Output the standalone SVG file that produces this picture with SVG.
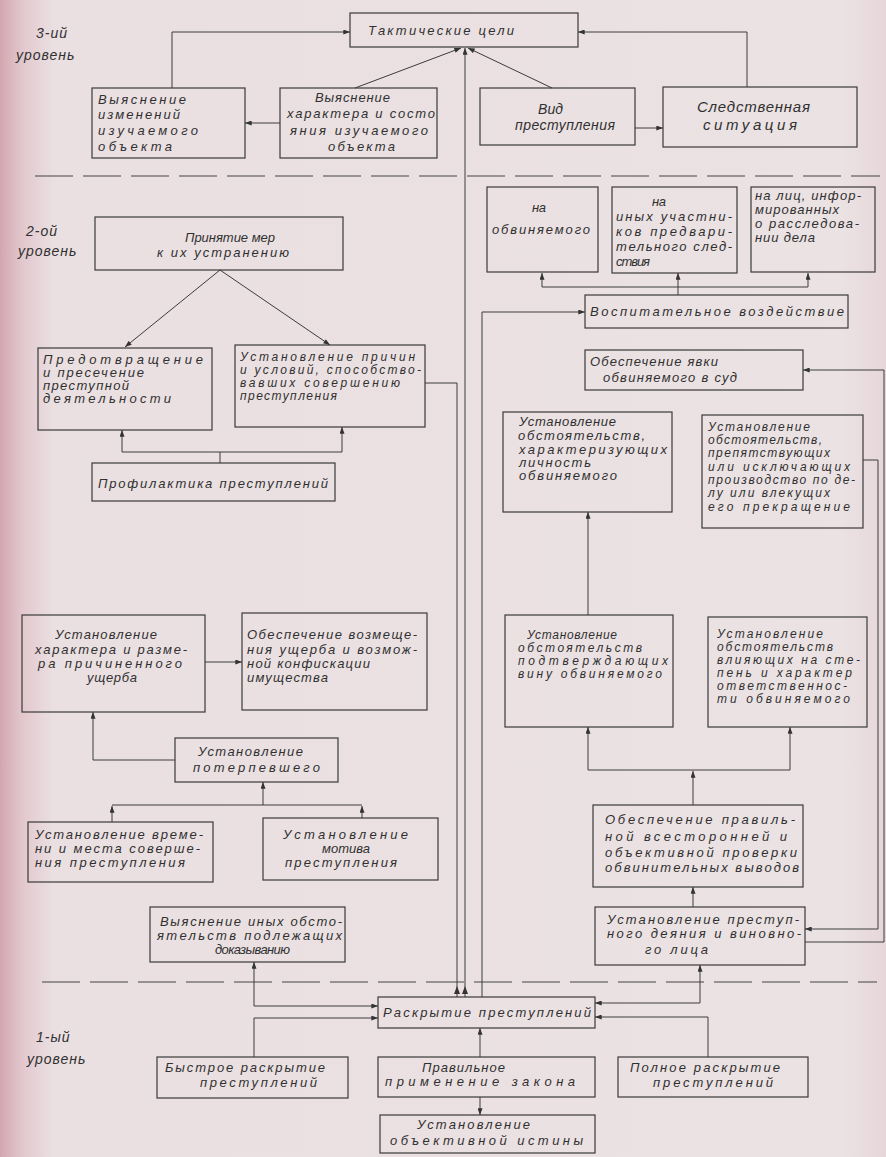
<svg xmlns="http://www.w3.org/2000/svg" width="886" height="1157" viewBox="0 0 886 1157">
<defs>
<linearGradient id="bg" x1="0" y1="0" x2="1" y2="0">
<stop offset="0" stop-color="#d3a6b1"/>
<stop offset="0.025" stop-color="#e2c8ce"/>
<stop offset="0.06" stop-color="#eadfe1"/>
<stop offset="0.95" stop-color="#ebe2e3"/>
<stop offset="1" stop-color="#e6d6da"/>
</linearGradient>
<marker id="ar" viewBox="0 0 8 6" refX="8" refY="3" markerWidth="8" markerHeight="5" markerUnits="userSpaceOnUse" orient="auto-start-reverse"><path d="M0,0 L8,3 L0,6 Z" fill="#333"/></marker>
<style>
.bx{fill:none;stroke:#3a3a3a;stroke-width:1.2}
.ln{fill:none;stroke:#3c3c3c;stroke-width:1}
.dash{fill:none;stroke:#454545;stroke-width:1.2;stroke-dasharray:38 10}
text{font-family:"Liberation Sans","DejaVu Sans",sans-serif;font-style:italic;font-size:13px;fill:#303030}
.m{font-size:14px}
.l{font-size:15px}
.lv{font-size:14px;letter-spacing:1px}
.s{font-size:12px}
</style>
</defs>
<rect x="0" y="0" width="886" height="1157" fill="url(#bg)"/>

<g id="level-lines">
<path class="dash" d="M35 176 H880"/>
<path class="dash" d="M42 982 H877"/>
</g>

<g id="level-labels">
<text class="lv"><tspan x="36" y="38">3-ий</tspan><tspan x="16" y="60">уровень</tspan></text>
<text class="lv"><tspan x="26" y="236">2-ой</tspan><tspan x="18" y="256">уровень</tspan></text>
<text class="lv"><tspan x="36" y="1042">1-ый</tspan><tspan x="27" y="1064">уровень</tspan></text>
</g>

<g id="connectors" class="ln">
<path d="M172 88 V32 H350" marker-end="url(#ar)"/>
<path d="M747 87 V32 H578" marker-end="url(#ar)"/>
<path d="M355 88 L461 48" marker-end="url(#ar)"/>
<path d="M552 88 L468 48" marker-end="url(#ar)"/>
<path d="M280 123 H245" marker-end="url(#ar)"/>
<path d="M635 128 H663" marker-end="url(#ar)"/>
<path d="M465 997 V48" marker-end="url(#ar)"/>
<path d="M425 383 H457 V997"/>
<path d="M482 997 V312 H585" marker-end="url(#ar)"/>
<polygon points="457,986 454,994 460,994" fill="#333" stroke="none"/>
<polygon points="465,986 462,994 468,994" fill="#333" stroke="none"/>
<path d="M220 270 L125 347" marker-end="url(#ar)"/>
<path d="M220 270 L330 345" marker-end="url(#ar)"/>
<path d="M220 463 V452 H122 V430" marker-end="url(#ar)"/>
<path d="M220 452 H342 V427" marker-end="url(#ar)"/>
<path d="M678 295 V287 H542 V273" marker-end="url(#ar)"/>
<path d="M678 287 V273" marker-end="url(#ar)"/>
<path d="M678 287 H808 V273" marker-end="url(#ar)"/>
<path d="M805 942 H884 V370 H803" marker-end="url(#ar)"/>
<path d="M863 460 H878 V929 H805" marker-end="url(#ar)"/>
<path d="M588 615 V512" marker-end="url(#ar)"/>
<path d="M693 805 V771" marker-end="url(#ar)"/>
<path d="M693 770 H588 V727" marker-end="url(#ar)"/>
<path d="M693 770 H790 V727" marker-end="url(#ar)"/>
<path d="M693 907 V887" marker-end="url(#ar)"/>
<path d="M700 965 V1003 H595" marker-start="url(#ar)" marker-end="url(#ar)"/>
<path d="M708 1057 V1017 H595" marker-end="url(#ar)"/>
<path d="M205 662 H242" marker-end="url(#ar)"/>
<path d="M175 760 H93 V712" marker-end="url(#ar)"/>
<path d="M263 805 V782" marker-end="url(#ar)"/>
<path d="M112 805 H362"/>
<path d="M112 822 V806" marker-end="url(#ar)"/>
<path d="M362 818 V806" marker-end="url(#ar)"/>
<path d="M254 962 V1006 H378" marker-start="url(#ar)" marker-end="url(#ar)"/>
<path d="M254 1057 V1018 H378" marker-end="url(#ar)"/>
<path d="M480 1057 V1028" marker-end="url(#ar)"/>
<path d="M480 1097 V1115" marker-end="url(#ar)"/>
</g>

<g id="n-takticheskie-tseli"><rect class="bx" x="350" y="13" width="228" height="34"/>
<text><tspan x="368" y="35" textLength="146" lengthAdjust="spacing">Тактические цели</tspan></text></g>

<g id="n-izmeneniya"><rect class="bx" x="92" y="88" width="153" height="70"/>
<text><tspan x="98" y="104" textLength="88" lengthAdjust="spacing">Выяснение</tspan><tspan x="98" y="119" textLength="82" lengthAdjust="spacing">изменений</tspan><tspan x="98" y="135" textLength="100" lengthAdjust="spacing">изучаемого</tspan><tspan x="98" y="151" textLength="74" lengthAdjust="spacing">объекта</tspan></text></g>

<g id="n-kharakter-sostoyanie"><rect class="bx" x="280" y="88" width="157" height="70"/>
<text><tspan x="315" y="102" textLength="75" lengthAdjust="spacing">Выяснение</tspan><tspan x="287" y="118" textLength="148" lengthAdjust="spacing">характера и состо</tspan><tspan x="290" y="135" textLength="138" lengthAdjust="spacing">яния изучаемого</tspan><tspan x="328" y="151" textLength="67" lengthAdjust="spacing">объекта</tspan></text></g>

<g id="n-vid-prestupleniya"><rect class="bx" x="480" y="88" width="155" height="57"/>
<text class="m"><tspan x="538" y="114" textLength="25" lengthAdjust="spacing">Вид</tspan><tspan x="515" y="130" textLength="100" lengthAdjust="spacing">преступления</tspan></text></g>

<g id="n-sledstvennaya-situatsiya"><rect class="bx" x="663" y="87" width="194" height="60"/>
<text class="l"><tspan x="697" y="112" textLength="113" lengthAdjust="spacing">Следственная</tspan><tspan x="703" y="130" textLength="94" lengthAdjust="spacing">ситуация</tspan></text></g>

<g id="n-prinyatie-mer"><rect class="bx" x="95" y="217" width="248" height="53"/>
<text><tspan x="185" y="242" textLength="90" lengthAdjust="spacing">Принятие мер</tspan><tspan x="157" y="257" textLength="132" lengthAdjust="spacing">к их устранению</tspan></text></g>

<g id="n-predotvrashchenie"><rect class="bx" x="38" y="348" width="174" height="82"/>
<text><tspan x="43" y="364" textLength="160" lengthAdjust="spacing">Предотвращение</tspan><tspan x="43" y="377" textLength="101" lengthAdjust="spacing">и пресечение</tspan><tspan x="43" y="390" textLength="86" lengthAdjust="spacing">преступной</tspan><tspan x="43" y="403" textLength="128" lengthAdjust="spacing">деятельности</tspan></text></g>

<g id="n-prichiny-usloviya"><rect class="bx" x="235" y="345" width="190" height="82"/>
<text class="s"><tspan x="240" y="361" textLength="175" lengthAdjust="spacing">Установление причин</tspan><tspan x="240" y="374" textLength="181" lengthAdjust="spacing">и условий, способство-</tspan><tspan x="240" y="387" textLength="160" lengthAdjust="spacing">вавших совершению</tspan><tspan x="240" y="400" textLength="97" lengthAdjust="spacing">преступления</tspan></text></g>

<g id="n-profilaktika"><rect class="bx" x="92" y="463" width="243" height="38"/>
<text><tspan x="98" y="488" textLength="230" lengthAdjust="spacing">Профилактика преступлений</tspan></text></g>

<g id="n-na-obvinyaemogo"><rect class="bx" x="487" y="187" width="111" height="85"/>
<text><tspan x="532" y="212" textLength="14" lengthAdjust="spacing">на</tspan><tspan x="492" y="234" textLength="98" lengthAdjust="spacing">обвиняемого</tspan></text></g>

<g id="n-na-inykh-uchastnikov"><rect class="bx" x="612" y="187" width="125" height="86"/>
<text><tspan x="652" y="206" textLength="14" lengthAdjust="spacing">на</tspan><tspan x="616" y="221" textLength="116" lengthAdjust="spacing">иных участни-</tspan><tspan x="616" y="236" textLength="116" lengthAdjust="spacing">ков предвари-</tspan><tspan x="616" y="251" textLength="116" lengthAdjust="spacing">тельного след-</tspan><tspan x="616" y="266" textLength="34" lengthAdjust="spacing">ствия</tspan></text></g>

<g id="n-na-lits"><rect class="bx" x="751" y="187" width="124" height="85"/>
<text><tspan x="755" y="200" textLength="106" lengthAdjust="spacing">на лиц, инфор-</tspan><tspan x="755" y="214" textLength="84" lengthAdjust="spacing">мированных</tspan><tspan x="755" y="228" textLength="104" lengthAdjust="spacing">о расследова-</tspan><tspan x="755" y="242" textLength="60" lengthAdjust="spacing">нии дела</tspan></text></g>

<g id="n-vospitatelnoe"><rect class="bx" x="585" y="295" width="263" height="33"/>
<text><tspan x="590" y="316" textLength="254" lengthAdjust="spacing">Воспитательное воздействие</tspan></text></g>

<g id="n-yavka"><rect class="bx" x="585" y="350" width="218" height="40"/>
<text><tspan x="590" y="366" textLength="128" lengthAdjust="spacing">Обеспечение явки</tspan><tspan x="603" y="382" textLength="134" lengthAdjust="spacing">обвиняемого в суд</tspan></text></g>

<g id="n-lichnost"><rect class="bx" x="503" y="412" width="169" height="100"/>
<text><tspan x="519" y="426" textLength="97" lengthAdjust="spacing">Установление</tspan><tspan x="518" y="440" textLength="127" lengthAdjust="spacing">обстоятельств,</tspan><tspan x="519" y="454" textLength="148" lengthAdjust="spacing">характеризующих</tspan><tspan x="519" y="467" textLength="72" lengthAdjust="spacing">личность</tspan><tspan x="519" y="480" textLength="98" lengthAdjust="spacing">обвиняемого</tspan></text></g>

<g id="n-prepyatstvuyushchikh"><rect class="bx" x="702" y="415" width="161" height="113"/>
<text class="s"><tspan x="708" y="431" textLength="102" lengthAdjust="spacing">Установление</tspan><tspan x="708" y="444" textLength="114" lengthAdjust="spacing">обстоятельств,</tspan><tspan x="708" y="457" textLength="122" lengthAdjust="spacing">препятствующих</tspan><tspan x="708" y="471" textLength="142" lengthAdjust="spacing">или исключающих</tspan><tspan x="708" y="484" textLength="147" lengthAdjust="spacing">производство по де-</tspan><tspan x="708" y="497" textLength="122" lengthAdjust="spacing">лу или влекущих</tspan><tspan x="708" y="511" textLength="142" lengthAdjust="spacing">его прекращение</tspan></text></g>

<g id="n-podtverzhdayushchikh"><rect class="bx" x="505" y="615" width="168" height="112"/>
<text class="s"><tspan x="527" y="639" textLength="90" lengthAdjust="spacing">Установление</tspan><tspan x="518" y="652" textLength="124" lengthAdjust="spacing">обстоятельств</tspan><tspan x="518" y="665" textLength="150" lengthAdjust="spacing">подтверждающих</tspan><tspan x="518" y="678" textLength="144" lengthAdjust="spacing">вину обвиняемого</tspan></text></g>

<g id="n-vliyayushchikh"><rect class="bx" x="708" y="617" width="159" height="110"/>
<text class="s"><tspan x="717" y="638" textLength="106" lengthAdjust="spacing">Установление</tspan><tspan x="717" y="651" textLength="116" lengthAdjust="spacing">обстоятельств</tspan><tspan x="717" y="664" textLength="143" lengthAdjust="spacing">влияющих на сте-</tspan><tspan x="717" y="677" textLength="135" lengthAdjust="spacing">пень и характер</tspan><tspan x="717" y="690" textLength="130" lengthAdjust="spacing">ответственнос-</tspan><tspan x="717" y="703" textLength="133" lengthAdjust="spacing">ти обвиняемого</tspan></text></g>

<g id="n-proverka"><rect class="bx" x="593" y="805" width="210" height="82"/>
<text><tspan x="605" y="824" textLength="190" lengthAdjust="spacing">Обеспечение правиль-</tspan><tspan x="605" y="841" textLength="182" lengthAdjust="spacing">ной всесторонней и</tspan><tspan x="605" y="857" textLength="192" lengthAdjust="spacing">объективной проверки</tspan><tspan x="605" y="872" textLength="194" lengthAdjust="spacing">обвинительных выводов</tspan></text></g>

<g id="n-deyanie"><rect class="bx" x="595" y="907" width="210" height="58"/>
<text><tspan x="607" y="924" textLength="192" lengthAdjust="spacing">Установление преступ-</tspan><tspan x="607" y="938" textLength="194" lengthAdjust="spacing">ного деяния и виновно-</tspan><tspan x="645" y="954" textLength="63" lengthAdjust="spacing">го лица</tspan></text></g>

<g id="n-ushcherb"><rect class="bx" x="22" y="615" width="183" height="97"/>
<text><tspan x="55" y="639" textLength="102" lengthAdjust="spacing">Установление</tspan><tspan x="35" y="654" textLength="152" lengthAdjust="spacing">характера и разме-</tspan><tspan x="38" y="668" textLength="144" lengthAdjust="spacing">ра причиненного</tspan><tspan x="87" y="682" textLength="50" lengthAdjust="spacing">ущерба</tspan></text></g>

<g id="n-vozmeshchenie"><rect class="bx" x="242" y="613" width="185" height="97"/>
<text><tspan x="247" y="639" textLength="170" lengthAdjust="spacing">Обеспечение возмеще-</tspan><tspan x="247" y="654" textLength="170" lengthAdjust="spacing">ния ущерба и возмож-</tspan><tspan x="247" y="668" textLength="123" lengthAdjust="spacing">ной конфискации</tspan><tspan x="247" y="682" textLength="81" lengthAdjust="spacing">имущества</tspan></text></g>

<g id="n-poterpevshiy"><rect class="bx" x="175" y="738" width="163" height="44"/>
<text><tspan x="198" y="756" textLength="105" lengthAdjust="spacing">Установление</tspan><tspan x="193" y="772" textLength="127" lengthAdjust="spacing">потерпевшего</tspan></text></g>

<g id="n-vremya-mesto"><rect class="bx" x="28" y="822" width="185" height="60"/>
<text><tspan x="35" y="839" textLength="168" lengthAdjust="spacing">Установление време-</tspan><tspan x="35" y="853" textLength="165" lengthAdjust="spacing">ни и места соверше-</tspan><tspan x="35" y="867" textLength="150" lengthAdjust="spacing">ния преступления</tspan></text></g>

<g id="n-motiv"><rect class="bx" x="263" y="818" width="175" height="62"/>
<text><tspan x="283" y="839" textLength="125" lengthAdjust="spacing">Установление</tspan><tspan x="322" y="853" textLength="48" lengthAdjust="spacing">мотива</tspan><tspan x="285" y="867" textLength="112" lengthAdjust="spacing">преступления</tspan></text></g>

<g id="n-inye-obstoyatelstva"><rect class="bx" x="150" y="907" width="195" height="55"/>
<text><tspan x="160" y="926" textLength="182" lengthAdjust="spacing">Выяснение иных обсто-</tspan><tspan x="157" y="940" textLength="185" lengthAdjust="spacing">ятельств подлежащих</tspan><tspan x="215" y="954" textLength="75" lengthAdjust="spacing">доказыванию</tspan></text></g>

<g id="n-raskrytie"><rect class="bx" x="378" y="997" width="217" height="31"/>
<text><tspan x="383" y="1017" textLength="208" lengthAdjust="spacing">Раскрытие преступлений</tspan></text></g>

<g id="n-bystroe"><rect class="bx" x="157" y="1057" width="191" height="41"/>
<text><tspan x="165" y="1072" textLength="160" lengthAdjust="spacing">Быстрое раскрытие</tspan><tspan x="200" y="1087" textLength="117" lengthAdjust="spacing">преступлений</tspan></text></g>

<g id="n-pravilnoe"><rect class="bx" x="378" y="1057" width="217" height="40"/>
<text><tspan x="422" y="1072" textLength="83" lengthAdjust="spacing">Правильное</tspan><tspan x="385" y="1086" textLength="190" lengthAdjust="spacing">применение закона</tspan></text></g>

<g id="n-polnoe"><rect class="bx" x="618" y="1057" width="190" height="40"/>
<text><tspan x="630" y="1072" textLength="150" lengthAdjust="spacing">Полное раскрытие</tspan><tspan x="653" y="1087" textLength="120" lengthAdjust="spacing">преступлений</tspan></text></g>

<g id="n-istina"><rect class="bx" x="380" y="1115" width="215" height="38"/>
<text><tspan x="417" y="1129" textLength="113" lengthAdjust="spacing">Установление</tspan><tspan x="390" y="1145" textLength="193" lengthAdjust="spacing">объективной истины</tspan></text></g>
</svg>
